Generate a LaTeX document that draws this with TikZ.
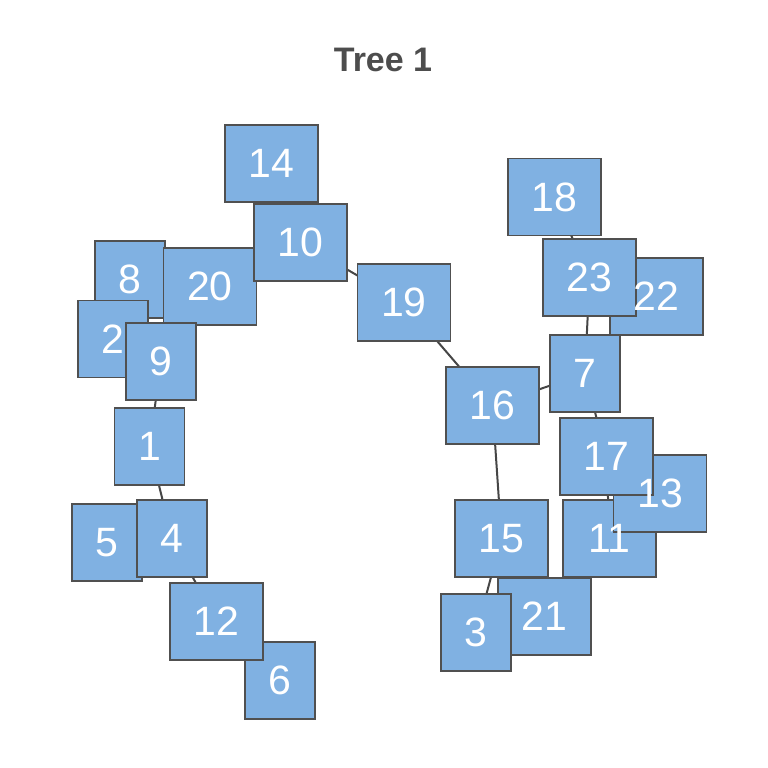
\documentclass[tikz,border=0pt]{standalone}
\usepackage{fontspec}
\setmainfont{Liberation Sans}
\definecolor{boxfill}{RGB}{128,177,226}
\definecolor{boxline}{RGB}{80,80,80}
\definecolor{edgecol}{RGB}{70,70,70}
\definecolor{titlecol}{RGB}{77,77,77}
\tikzset{
  vbox/.style={draw=boxline, line width=1.9pt, fill=boxfill, minimum height=77pt, inner sep=0pt, minimum width=#1},
  vbox/.default=70pt,
  vlab/.style={text=white, inner sep=0pt, font=\fontsize{41}{41}\selectfont},
  tedge/.style={draw=edgecol, line width=2pt}
}
\begin{document}
\begin{tikzpicture}[x=1pt,y=-1pt]
\useasboundingbox (0,0) rectangle (768,768);
\node[text=titlecol, font=\bfseries\fontsize{34}{34}\selectfont, anchor=base] (title) at (383,71) {Tree 1};
% coordinates of vertex centres
\coordinate (c14) at (271.5,163.5);
\coordinate (c10) at (300.5,242.5);
\coordinate (c8) at (130,279.5);
\coordinate (c20) at (210,286.5);
\coordinate (c2) at (113,339);
\coordinate (c9) at (161,361.5);
\coordinate (c1) at (149.5,446.5);
\coordinate (c5) at (107,542.5);
\coordinate (c4) at (172,538.5);
\coordinate (c12) at (216.5,621.5);
\coordinate (c6) at (280,680.5);
\coordinate (c19) at (404,302.5);
\coordinate (c16) at (492.5,405.5);
\coordinate (c18) at (554.5,197);
\coordinate (c23) at (589.5,277.5);
\coordinate (c22) at (656.5,296.5);
\coordinate (c7) at (585,373.5);
\coordinate (c17) at (606.5,456.5);
\coordinate (c13) at (660,493.5);
\coordinate (c11) at (609.5,538.5);
\coordinate (c15) at (501.5,538.5);
\coordinate (c21) at (544.5,616.5);
\coordinate (c3) at (476,632.5);
% edges
\foreach \a/\b in {14/10,10/20,10/19,20/8,20/9,9/2,9/1,1/4,4/5,4/12,12/6,19/16,16/7,16/15,15/3,15/21,7/23,23/18,23/22,7/17,17/11,17/13}
  \draw[tedge] (c\a) -- (c\b);
% boxes in stacking order
\foreach \n/\w in {14/93pt,8/70pt,20/93pt,10/93pt,2/70pt,9/70pt,1/70pt,5/70pt,4/70pt,6/70pt,12/93pt,19/93pt,16/93pt,18/93pt,22/93pt,23/93pt,7/70pt,11/93pt,13/93pt,17/93pt,15/93pt,21/93pt,3/70pt}
  \node[vbox=\w] (v\n) at (c\n) {};
% labels on top
\foreach \n in {14,8,20,10,2,9,1,5,4,6,12,19,16,18,22,23,7,11,13,17,15,21,3}
  \node[vlab] (l\n) at (v\n) {\n};
\end{tikzpicture}
\end{document}
